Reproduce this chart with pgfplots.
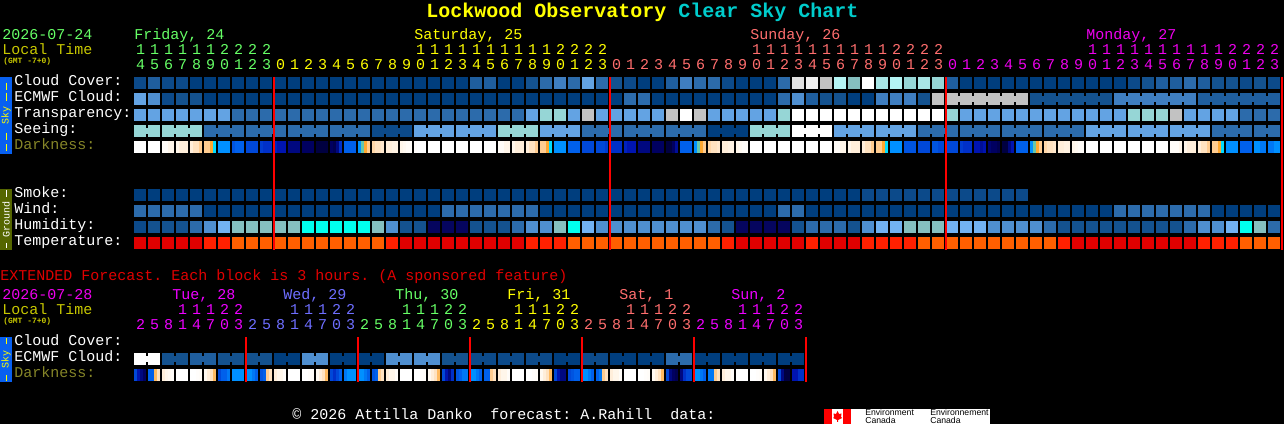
\documentclass[border=0pt]{standalone}
\usepackage{fontspec}
\setmainfont{Liberation Mono}
\newfontfamily\logofont{Liberation Sans}
\usepackage{pgfplots}
\usepackage{pgfplotstable}
\pgfplotsset{compat=1.18}
\definecolor{cA}{HTML}{003E7E}\definecolor{cB}{HTML}{0C4A8A}\definecolor{cC}{HTML}{14528F}
\definecolor{cD}{HTML}{1F5E9E}\definecolor{cE}{HTML}{2C6BAB}\definecolor{cF}{HTML}{3F7EC0}
\definecolor{cG}{HTML}{4F8FD0}\definecolor{cH}{HTML}{63A3E3}\definecolor{cI}{HTML}{72B2F2}
\definecolor{cJ}{HTML}{85BFBF}\definecolor{cK}{HTML}{96D6D6}\definecolor{cL}{HTML}{A8E6E6}
\definecolor{cM}{HTML}{B4F4F4}\definecolor{cN}{HTML}{C2C2C2}\definecolor{cO}{HTML}{E0E0E0}
\definecolor{cP}{HTML}{F0F0F0}\definecolor{cQ}{HTML}{FFFFFF}\definecolor{cR}{HTML}{05055E}
\definecolor{cS}{HTML}{00FFEE}\definecolor{cT}{HTML}{E00000}\definecolor{cU}{HTML}{FF2000}
\definecolor{cV}{HTML}{FF5F00}
\definecolor{fri}{HTML}{66FF66}\definecolor{sat}{HTML}{FFFF00}\definecolor{sun}{HTML}{FF6E6E}
\definecolor{mon}{HTML}{EE00EE}\definecolor{wed}{HTML}{6E6EFF}\definecolor{tue}{HTML}{EE00FF}
\definecolor{ltime}{HTML}{C8C800}\definecolor{dimlab}{HTML}{858528}\definecolor{teal}{HTML}{00CCCC}
\definecolor{skybox}{HTML}{0860F0}\definecolor{grdbox}{HTML}{556600}
\pgfdeclareplotmark{blk}{\pgfpathrectangle{\pgfpoint{-4.5pt}{-4.5pt}}{\pgfpoint{9pt}{9pt}}\pgfusepathqfill}
\pgfdeclareplotmark{lnk}{\pgfpathrectangle{\pgfpoint{-0.85pt}{-2.25pt}}{\pgfpoint{1.7pt}{4.5pt}}\pgfusepathqfill}
\pgfdeclareplotmark{dk}{\pgfpathrectangle{\pgfpoint{-1.17pt}{-4.5pt}}{\pgfpoint{2.34pt}{9pt}}\pgfusepathqfill}
\pgfdeclareplotmark{non}{}
\newcommand\mkcells[2]{\pgfplotsset{#1/.style={only marks,scatter,point meta=explicit symbolic,
    scatter/classes={a={mark=#2,cA},b={mark=#2,cB},c={mark=#2,cC},d={mark=#2,cD},e={mark=#2,cE},
      f={mark=#2,cF},g={mark=#2,cG},h={mark=#2,cH},i={mark=#2,cI},j={mark=#2,cJ},k={mark=#2,cK},
      l={mark=#2,cL},m={mark=#2,cM},n={mark=#2,cN},o={mark=#2,cO},p={mark=#2,cP},q={mark=#2,cQ},
      r={mark=#2,cR},s={mark=#2,cS},T={mark=#2,cT},U={mark=#2,cU},V={mark=#2,cV},z={mark=non}}}}}
\mkcells{cellsblk}{blk}
\mkcells{cellslnk}{lnk}
\pgfplotsset{
  dark/.style={only marks,scatter,mark=dk,point meta=explicit,
    scatter/use mapped color={draw=mapped color,fill=mapped color}},
  colormap={dk}{rgb255=(255,255,255) rgb255=(255,252,248) rgb255=(255,246,234) rgb255=(255,238,218)
    rgb255=(255,226,192) rgb255=(255,204,144) rgb255=(255,168,48) rgb255=(0,220,255) rgb255=(0,144,255)
    rgb255=(0,96,235) rgb255=(0,72,216) rgb255=(0,48,200) rgb255=(0,20,176) rgb255=(0,8,128)
    rgb255=(0,0,96) rgb255=(0,0,64)},
  pagebox/.style={at={(0,0)},anchor=south west,scale only axis,width=963pt,height=318pt,
    xmin=0,xmax=1284,ymin=0,ymax=424,y dir=reverse,hide axis,clip=false}}
\pgfplotstableread{
i cloud ecmwf elink transp seeing slink smoke wind hum temp
0 b h z h k k a e b T
1 d g z h k z a e c T
2 b b z h k k a e c T
3 b c z h k k a e c T
4 a c z h k z a e e T
5 a a z h e e a a g U
6 a a z h e e a a i U
7 a a z e e z a a j V
8 a a z e e e a a j V
9 a a z e e e a a j V
10 a a z e e z a a j V
11 a a z e e e a a j V
12 a a z e e e a a s V
13 a a z e e z a a s V
14 a a z e e e a a s V
15 a a z e e e a a s V
16 a a z e e z a a s V
17 a a z e b b a a j V
18 a a z e b b a a g U
19 a a z e b z a a c T
20 a a z e h h a a c T
21 a a z e h h a a r T
22 a a z e h z a e r T
23 a a z e h h a e r T
24 d a z e h h a e c T
25 d a z e h z a e c T
26 a a z e k k a e c T
27 a a z e k k a e e T
28 c a z h k z a e g U
29 e a z k h h a a g U
30 f a z k h h a a j U
31 e a z h h z a a s V
32 h a z n e e a a i V
33 e a z h e e a a g V
34 c a z h e z a a g V
35 b e z h e e a a g V
36 a e z h e e a a g V
37 a a z h e z a a g V
38 d a z n e e a a g V
39 f a z q e e a a g V
40 e a z n e z a a g V
41 e a z h a a a a e V
42 b a z h a a a a c U
43 a a z h a z a a r T
44 a a z h k k a a r T
45 a a z h k k a a r T
46 e e z k k z a e r T
47 o g z q q q a e c T
48 p d z q q q a a e U
49 n c z q q z a a e T
50 m c z q h h a a e T
51 j a z q h h a a c T
52 q a z q h z b a g U
53 l f z q h h b a i U
54 m f z q h h b a i U
55 k f z q h z b a j U
56 l c z q e e b a j V
57 k n z q e e b a j V
58 d n n k e z b a i V
59 a n n h e e b a i V
60 a n n h e e b a i V
61 a n n h e z b a g V
62 a n n h e e b a g V
63 a n z h e e b a g V
64 a c c h e z z a g V
65 a c c h e e z a e V
66 a c c h e e z a c U
67 a c c h e z z a c T
68 a c c h h h z a c T
69 a c z h h h z a c T
70 a f f h h z z e c T
71 b f f k h h z e c T
72 c f f k h h z e c T
73 d f f k h z z e c T
74 d f f n h h z e c T
75 e f z h h h z e e T
76 d d d h h z z e g U
77 c d d h e e z a g U
78 c d d h e e z a i U
79 b d d e e z z a s V
80 c d d e e e z a j V
81 b d z e e z z a e V
}\mainT
\pgfplotstableread{
i s1 s2 s3 s4
0 0 0 0 0
1 0 0 0 0
2 1 1 2 2
3 2 3 3 3
4 3 4 4 5
5 5 5 6 7
6 8 8 8 8
7 9.5 9 9 9
8 10 10 10 10
9 10.5 11 11 11
10 11.5 12 12 12
11 13 13 13 13
12 14 14 14 14
13 15 15 15 15
14 14 14.5 13 11
15 9 9 9 9
16 8 6.6 6 5
17 4.5 4 4 3.5
18 3 3 2.5 2.5
19 2 1.5 1 1
20 0.5 0 0 0
21 0 0 0 0
22 0 0 0 0
23 0 0 0 0
24 0 0 0 0
25 0 0 0 0
26 1 1 2 2
27 2 3 3 3
28 3 4 4 5
29 5 5 6 7
30 8 8 8 8
31 9 9 9 9
32 10 10 10 10
33 10 10 10 10.5
34 11 11 11 11
35 11.5 12 12 12
36 13 13 13 13
37 14 14 14 14
38 15 15 14 12.5
39 9 9 9 9
40 8 6.6 6 5
41 4.5 4 4 3.5
42 3 3 2.5 2.5
43 2 1.5 1 1
44 0 0 0 0
45 0 0 0 0
46 0 0 0 0
47 0 0 0 0
48 0 0 0 0
49 0 0 0 0
50 1 1 2 2
51 2 3 3 3
52 3 4 4 5
53 5 5 6 7
54 8 8 8 8
55 9.5 9.5 9.5 9.5
56 10 10 10 10
57 9.5 9.5 10 10
58 10 10 10 10
59 10.5 11 11 11
60 12 12 12.5 12
61 13.5 14 14 14.5
62 15 15 13 12
63 9 9 9 9
64 8 6.6 6 5
65 4.5 4 4 3.5
66 3 3 2.5 2.5
67 2 1.5 1 1
68 0 0 0 0
69 0 0 0 0
70 0 0 0 0
71 0 0 0 0
72 0 0 0 0
73 0 0 0 0
74 1 1 1 2
75 2 3 3 3
76 3 4 4 5
77 5 5 6 7
78 8 8 8 8
79 9 9 9 9
80 8 8 8.5 8.5
81 8.5 8.5 8 8
}\darkT
\pgfplotstableread{
i ecmwf link s1 s2 s3 s4
0 q q 10 12 13 14
1 q z 9 9 5.5 4
2 c c 3 2 1.5 1
3 c z 0 0 0 0
4 d d 0 0 0.5 1
5 d z 1.5 3 4 5.5
6 c c 10 9 9 8.5
7 c z 8 8 8 8
8 c c 8 8 8.5 9
9 c z 9.5 9 5 4
10 a a 3 2 2 1
11 a z 0 0 0 0
12 g g 0 0 0.5 1
13 g z 1.5 3 4 5.5
14 a a 10 11 10 9
15 a z 8.5 8 8 8
16 a a 8 8 8.5 9
17 a z 9.5 9 5 4
18 g g 3 2 2 1
19 g z 0 0 0 0
20 g g 0 0 0.5 1
21 g z 1.5 3 4 5.5
22 c c 10 12 13 11
23 c z 9.5 9 8.5 8.5
24 b b 8 8 8.5 9
25 b z 9 9 5 4
26 b b 3 2 2 1
27 b z 0 0 0 0
28 b b 0 0 0.5 1
29 b z 1.5 3 4 5.5
30 a a 10 12 13 13
31 a z 10 9.5 9 9
32 b b 8 8 8.5 9
33 b z 9 8.5 5 4
34 a a 3 2 2 1
35 a z 0 0 0 0
36 a a 0 0 0.5 1
37 a z 1.5 3 4 5.5
38 e e 10 13 14 14.5
39 e z 13 11 10 10
40 a a 8 8 8.5 9
41 a z 8.5 8.5 5 4
42 a a 3 2 2 1
43 a z 0 0 0 0
44 a a 0 0 0.5 1
45 a z 1.5 3 4 5.5
46 a a 10 13 15 15
47 a z 12 12 11 11
}\extT
\frenchspacing
\begin{document}
\begin{tikzpicture}
\useasboundingbox (0,0) rectangle (963pt,318pt);
\fill[black] (0,0) rectangle (963pt,318pt);
\begin{axis}[pagebox,colormap name=dk,point meta min=0,point meta max=15]
% hourly rows
\addplot[cellsblk] table[x expr=140+14*\thisrow{i},y expr=83,meta=cloud]{\mainT};
\addplot[cellsblk] table[x expr=140+14*\thisrow{i},y expr=99,meta=ecmwf]{\mainT};
\addplot[cellslnk] table[x expr=147+14*\thisrow{i},y expr=99,meta=elink]{\mainT};
\addplot[cellsblk] table[x expr=140+14*\thisrow{i},y expr=115,meta=transp]{\mainT};
\addplot[cellsblk] table[x expr=140+14*\thisrow{i},y expr=131,meta=seeing]{\mainT};
\addplot[cellslnk] table[x expr=147+14*\thisrow{i},y expr=131,meta=slink]{\mainT};
\addplot[dark] table[x expr=135.5+14*\thisrow{i},y expr=147,meta=s1]{\darkT};
\addplot[dark] table[x expr=138.5+14*\thisrow{i},y expr=147,meta=s2]{\darkT};
\addplot[dark] table[x expr=141.5+14*\thisrow{i},y expr=147,meta=s3]{\darkT};
\addplot[dark] table[x expr=144.5+14*\thisrow{i},y expr=147,meta=s4]{\darkT};
\addplot[cellsblk] table[x expr=140+14*\thisrow{i},y expr=195,meta=smoke]{\mainT};
\addplot[cellsblk] table[x expr=140+14*\thisrow{i},y expr=211,meta=wind]{\mainT};
\addplot[cellsblk] table[x expr=140+14*\thisrow{i},y expr=227,meta=hum]{\mainT};
\addplot[cellsblk] table[x expr=140+14*\thisrow{i},y expr=243,meta=temp]{\mainT};
% extended rows
\addplot[cellsblk] table[x expr=140+14*\thisrow{i},y expr=359,meta=ecmwf]{\extT};
\addplot[cellslnk] table[x expr=147+14*\thisrow{i},y expr=359,meta=link]{\extT};
\addplot[dark] table[x expr=135.5+14*\thisrow{i},y expr=375,meta=s1]{\extT};
\addplot[dark] table[x expr=138.5+14*\thisrow{i},y expr=375,meta=s2]{\extT};
\addplot[dark] table[x expr=141.5+14*\thisrow{i},y expr=375,meta=s3]{\extT};
\addplot[dark] table[x expr=144.5+14*\thisrow{i},y expr=375,meta=s4]{\extT};
\end{axis}
% midnight lines on top of the blocks
\begin{axis}[pagebox]
\addplot[red,line width=1.5pt] coordinates {(274,77)(274,250)};
\addplot[red,line width=1.5pt] coordinates {(610,77)(610,250)};
\addplot[red,line width=1.5pt] coordinates {(946,77)(946,250)};
\addplot[red,line width=1.5pt] coordinates {(1282,77)(1282,250)};
\addplot[red,line width=1.5pt] coordinates {(246,337)(246,382)};
\addplot[red,line width=1.5pt] coordinates {(358,337)(358,382)};
\addplot[red,line width=1.5pt] coordinates {(470,337)(470,382)};
\addplot[red,line width=1.5pt] coordinates {(582,337)(582,382)};
\addplot[red,line width=1.5pt] coordinates {(694,337)(694,382)};
\addplot[red,line width=1.5pt] coordinates {(806,337)(806,382)};
\end{axis}
\begin{scope}[x=0.75pt,y=-0.75pt,yshift=318pt,
  lab/.style={anchor=base west,inner sep=0pt,font=\fontsize{11.25pt}{12pt}\selectfont},
  dig/.style={anchor=base,inner sep=0pt,font=\fontsize{11.25pt}{12pt}\selectfont},
  gm/.style={anchor=base west,inner sep=0pt,text=ltime,font=\fontsize{6pt}{6pt}\selectfont\bfseries},
  vert/.style={rotate=90,inner sep=0pt,font=\fontsize{7.5pt}{8pt}\selectfont}]
% title
\node[anchor=base west,inner sep=0pt,font=\fontsize{15pt}{16pt}\selectfont\bfseries,text=sat] at (426,18) {Lockwood Observatory};
\node[anchor=base west,inner sep=0pt,font=\fontsize{15pt}{16pt}\selectfont\bfseries,text=teal] at (678,18) {Clear Sky Chart};
% header left
\node[lab,text=fri] at (2,39.5) {2026-07-24};
\node[lab,text=ltime] at (2,55) {Local Time};
\node[gm] at (3,64) {(GMT -7+0)};
\node[lab,text=fri] at (134,39.5) {Friday, 24};
\node[lab,text=sat] at (414,39.5) {Saturday, 25};
\node[lab,text=sun] at (750,39.5) {Sunday, 26};
\node[lab,text=mon] at (1086,39.5) {Monday, 27};
\foreach \c in {0,...,81}{
  \pgfmathtruncatemacro\h{mod(14+\c,24)}
  \pgfmathtruncatemacro\u{mod(\h,10)}
  \pgfmathtruncatemacro\t{\h/10}
  \ifnum\c<10 \def\cl{fri}\else\ifnum\c<34 \def\cl{sat}\else\ifnum\c<58 \def\cl{sun}\else\def\cl{mon}\fi\fi\fi
  \node[dig,text=\cl] at (140.5+14*\c,70) {\u};
  \ifnum\h>9 \node[dig,text=\cl] at (140.5+14*\c,55) {\t};\fi
}
% row labels
\node[lab,text=white] at (14,86) {Cloud Cover:};
\node[lab,text=white] at (14,102) {ECMWF Cloud:};
\node[lab,text=white] at (14,118) {Transparency:};
\node[lab,text=white] at (14,134) {Seeing:};
\node[lab,text=dimlab] at (14,150) {Darkness:};
\node[lab,text=white] at (14,198) {Smoke:};
\node[lab,text=white] at (14,214) {Wind:};
\node[lab,text=white] at (14,230) {Humidity:};
\node[lab,text=white] at (14,246) {Temperature:};
% side boxes
\fill[skybox] (0,77) rectangle (12,154);
\node[vert,text=sat] at (6,115.5) {Sky};
\foreach \a/\b in {83/90,93/101,133/140,144/151}{\draw[sat,line width=.75pt] (6,\a) -- (6,\b);}
\fill[grdbox] (0,189) rectangle (12,250);
\node[vert,text=white] at (6,220) {Ground};
\foreach \a/\b in {190/197,243/248}{\draw[white,line width=.75pt] (6,\a) -- (6,\b);}
% extended
\node[lab,text=red!88!black] at (0,281) {EXTENDED Forecast. Each block is 3 hours. (A sponsored feature)};
\node[lab,text=mon] at (2,300) {2026-07-28};
\node[lab,text=ltime] at (2,315) {Local Time};
\node[gm] at (3,324) {(GMT -7+0)};
\node[lab,text=tue] at (172,300) {Tue, 28};
\node[lab,text=wed] at (283,300) {Wed, 29};
\node[lab,text=fri] at (395,300) {Thu, 30};
\node[lab,text=sat] at (507,300) {Fri, 31};
\node[lab,text=sun] at (619,300) {Sat, 1};
\node[lab,text=tue] at (731,300) {Sun, 2};
\foreach \c in {0,...,47}{
  \pgfmathtruncatemacro\h{mod(2+3*\c,24)}
  \pgfmathtruncatemacro\u{mod(\h,10)}
  \pgfmathtruncatemacro\t{\h/10}
  \pgfmathtruncatemacro\d{\c/8}
  \ifcase\d \def\cl{tue}\or\def\cl{wed}\or\def\cl{fri}\or\def\cl{sat}\or\def\cl{sun}\or\def\cl{tue}\fi
  \node[dig,text=\cl] at (140.5+14*\c,330) {\u};
  \ifnum\h>9 \node[dig,text=\cl] at (140.5+14*\c,315) {\t};\fi
}
\node[lab,text=white] at (14,346) {Cloud Cover:};
\node[lab,text=white] at (14,362) {ECMWF Cloud:};
\node[lab,text=dimlab] at (14,378) {Darkness:};
\fill[skybox] (0,337) rectangle (12,382);
\node[vert,text=sat] at (6,360) {Sky};
\foreach \a/\b in {338/344,375/381}{\draw[sat,line width=.75pt] (6,\a) -- (6,\b);}
% footer
\node[lab,text=white] at (292,420) {© 2026 Attilla Danko~~forecast: A.Rahill~~data:};
% logo
\fill[white] (832,409) rectangle (990,424);
\fill[red] (824,409) rectangle (832,424);
\fill[red] (843,409) rectangle (851,424);
\fill[red] (837.5,411) -- (839,414) -- (841.5,413.5) -- (841,417) -- (842,418) -- (838,420) -- (838,422) -- (837,422) -- (837,420) -- (833,418) -- (834,417) -- (833.5,413.5) -- (836,414) -- cycle;
\node[anchor=base west,inner sep=0pt,text=black,font=\logofont\fontsize{6.5pt}{7pt}\selectfont] at (865,416) {Environment};
\node[anchor=base west,inner sep=0pt,text=black,font=\logofont\fontsize{6.5pt}{7pt}\selectfont] at (865,423.5) {Canada};
\node[anchor=base west,inner sep=0pt,text=black,font=\logofont\fontsize{6.5pt}{7pt}\selectfont] at (930,416) {Environnement};
\node[anchor=base west,inner sep=0pt,text=black,font=\logofont\fontsize{6.5pt}{7pt}\selectfont] at (930,423.5) {Canada};
\end{scope}
\end{tikzpicture}
\end{document}
